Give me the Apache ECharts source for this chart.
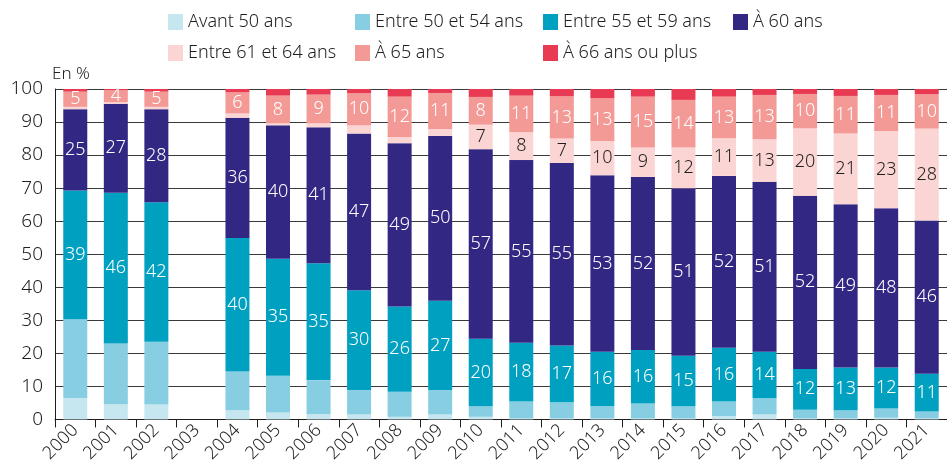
<!DOCTYPE html>
<html lang="fr">

<head>
    <meta charset="UTF-8">
    <title>Âge de départ à la retraite</title>
    <script src="https://cdn.jsdelivr.net/npm/echarts@6/dist/echarts.min.js"></script>
    <style>
        html, body { margin: 0; padding: 0; background: #fff; }
    </style>
</head>

<body>
    <div id="main" style="width: 947px; height: 465px;"></div>
    <script>
    const years = ['2000', '2001', '2002', '2003', '2004', '2005', '2006', '2007', '2008', '2009', '2010',
        '2011', '2012', '2013', '2014', '2015', '2016', '2017', '2018', '2019', '2020', '2021']

    // parts en % (2003 : pas de donnée)
    const avant50 = [6.5, 4.6, 4.5, null, 2.8, 2.1, 1.6, 1.5, 0.8, 1.5, 0.8, 0.3, 0.3, 0.3, 0.3, 0.3, 1.0, 1.5, 0.3, 0.3, 0.5, 0.3]
    const entre50et54 = [23.8, 18.4, 19.0, null, 11.7, 11.1, 10.3, 7.4, 7.6, 7.4, 3.2, 5.1, 4.9, 3.8, 4.5, 3.7, 4.4, 4.9, 2.6, 2.5, 2.8, 2.1]
    const entre55et59 = [39.0, 45.6, 42.2, null, 40.4, 35.4, 35.4, 30.2, 25.8, 27.0, 20.4, 17.8, 17.2, 16.4, 16.2, 15.3, 16.3, 14.1, 12.4, 12.9, 12.4, 11.4]
    const a60ans = [24.6, 26.9, 28.2, null, 36.4, 40.4, 41.1, 47.4, 49.4, 49.9, 57.4, 55.3, 55.2, 53.4, 52.4, 50.7, 52.0, 51.4, 52.4, 49.4, 48.2, 46.4]
    const entre61et64 = [0.7, 0.5, 0.7, null, 1.3, 0.6, 1.2, 2.5, 1.9, 2.1, 7.4, 8.4, 7.4, 10.4, 8.9, 12.3, 11.4, 12.9, 20.4, 21.4, 23.4, 27.8]
    const a65ans = [4.6, 3.6, 4.6, null, 6.4, 8.4, 8.7, 9.7, 12.2, 10.9, 8.4, 11.1, 12.8, 12.9, 15.4, 14.4, 12.6, 13.4, 10.4, 11.4, 10.9, 10.4]
    const a66plus = [0.8, 0.5, 0.8, null, 1.0, 2.0, 1.7, 1.3, 2.3, 1.2, 2.4, 2.0, 2.2, 2.8, 2.3, 3.3, 2.3, 1.8, 1.5, 2.1, 1.8, 1.6]

    const yTicks = [0, 10, 20, 30, 40, 50, 60, 70, 80, 90, 100]

    const FONT = '"Noto Sans", sans-serif'

    function makeSeries(name, data, color, labelColor) {
        return {
            name: name,
            type: 'bar',
            stack: 'total',
            data: data,
            barWidth: 24,
            itemStyle: { color: color },
            label: {
                show: !!labelColor,
                position: 'inside',
                color: labelColor,
                fontFamily: FONT,
                fontWeight: 300,
                fontSize: 18,
                formatter: function (p) {
                    return p.value >= 3 ? Math.round(p.value) : ''
                }
            }
        }
    }

    function legendCol(left, names) {
        return {
            orient: 'vertical',
            left: left,
            top: 13,
            padding: 0,
            itemWidth: 15,
            itemHeight: 16,
            itemGap: 13,
            icon: 'rect',
            data: names,
            selectedMode: false,
            textStyle: {
                fontFamily: FONT,
                fontWeight: 300,
                fontSize: 18,
                color: '#1e1e1e'
            }
        }
    }

    const myChart = echarts.init(document.getElementById('main'))
    const option = {
        animation: false,
        backgroundColor: '#fff',
        legend: [
            legendCol(168, ['Avant 50 ans', 'Entre 61 et 64 ans']),
            legendCol(355, ['Entre 50 et 54 ans', 'À 65 ans']),
            legendCol(543, ['Entre 55 et 59 ans', 'À 66 ans ou plus']),
            legendCol(733, ['À 60 ans'])
        ],
        graphic: [{
            type: 'text',
            left: 52,
            top: 66,
            style: {
                text: 'En %',
                font: '300 17px "Noto Sans", sans-serif',
                fill: '#1e1e1e'
            }
        }],
        grid: {
            left: 55,
            right: -2,
            top: 89,
            bottom: 45
        },
        xAxis: {
            type: 'category',
            data: years,
            axisLine: { lineStyle: { color: '#1e1e1e', width: 1 } },
            axisTick: { show: true, length: 8, lineStyle: { color: '#1e1e1e' } },
            axisLabel: {
                rotate: 45,
                margin: 8,
                fontFamily: FONT,
                fontWeight: 300,
                fontSize: 18,
                color: '#1e1e1e',
                interval: 0
            }
        },
        yAxis: {
            type: 'value',
            min: yTicks[0],
            max: yTicks[yTicks.length - 1],
            interval: 10,
            axisLine: { show: true, lineStyle: { color: '#1e1e1e', width: 1 } },
            axisTick: { show: false },
            axisLabel: {
                margin: 12,
                fontFamily: FONT,
                fontWeight: 300,
                fontSize: 19,
                color: '#1e1e1e'
            },
            splitLine: { lineStyle: { color: '#3a3a3a', width: 1 } }
        },
        series: [
            makeSeries('Avant 50 ans', avant50, '#c6e7f0', null),
            makeSeries('Entre 50 et 54 ans', entre50et54, '#88cee3', null),
            makeSeries('Entre 55 et 59 ans', entre55et59, '#00a0c1', '#ffffff'),
            makeSeries('À 60 ans', a60ans, '#322783', '#ffffff'),
            makeSeries('Entre 61 et 64 ans', entre61et64, '#fbd5d3', '#1e1e1e'),
            makeSeries('À 65 ans', a65ans, '#f49a96', '#ffffff'),
            makeSeries('À 66 ans ou plus', a66plus, '#e83b53', null)
        ]
    }
    myChart.setOption(option)
    </script>
</body>

</html>
